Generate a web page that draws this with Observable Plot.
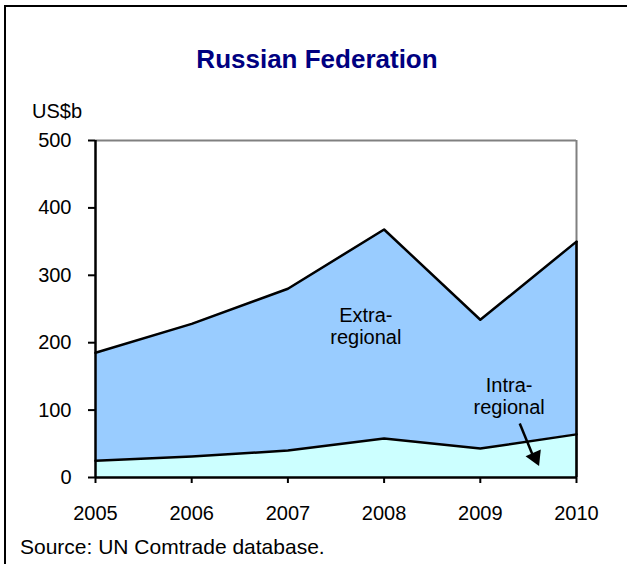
<!DOCTYPE html>
<html>
<head>
<meta charset="utf-8">
<script src="https://cdn.jsdelivr.net/npm/d3@7"></script>
<script src="https://cdn.jsdelivr.net/npm/@observablehq/plot@0.6"></script>
<style>
  html, body { margin: 0; padding: 0; background: #fff; }
  #wrap { position: relative; width: 627px; height: 564px; overflow: hidden; font-family: "Liberation Sans", Arial, sans-serif; }
  #frame { position: absolute; left: 4px; top: 5px; width: 700px; height: 700px; border-left: 2px solid #000; border-top: 2px solid #000; box-sizing: border-box; }
  .txt { position: absolute; white-space: nowrap; color: #000; }
  #title { left: 0; width: 634px; text-align: center; top: 46px; font-size: 26px; line-height: 26px; font-weight: bold; color: #000080; }
  #unit { left: 32px; top: 101px; font-size: 20px; line-height: 20px; }
  #source { left: 20px; top: 536px; font-size: 21px; line-height: 21px; }
  #chart { position: absolute; left: 0; top: 0; }
</style>
</head>
<body>
<div id="wrap">
  <div id="frame"></div>
  <div id="chart"></div>
  <div class="txt" id="title">Russian Federation</div>
  <div class="txt" id="unit">US$b</div>
  <div class="txt" id="source">Source: UN Comtrade database.</div>
</div>
<script>
// Data (US$ billions)
const years = [2005, 2006, 2007, 2008, 2009, 2010];
const totalTrade = [185, 228, 280, 368, 234, 350];   // extra + intra (top of stacked area)
const intraRegional = [25, 31, 40, 58, 43, 64];
const yTicks = [0, 100, 200, 300, 400, 500];
const xTicks = years;

// Annotation labels and arrow (data space)
const labelTexts = ["Extra-\nregional", "Intra-\nregional"];
const labelYears = [2007.81, 2009.30];
const labelValues = [225, 121];
const arrowFrom = {year: 2009.41, value: 80};
const arrowTo = {year: 2009.54, value: 35};
const arrowHead = {year: 2009.57, value: 30};

const rows = years.map((y, i) => ({year: y, total: totalTrade[i], intra: intraRegional[i]}));
const labels = labelTexts.map((t, i) => ({text: t, year: labelYears[i], value: labelValues[i]}));
const last = rows[rows.length - 1];

const chart = Plot.plot({
  width: 627,
  height: 564,
  marginLeft: 95,
  marginRight: 51,
  marginTop: 140,
  marginBottom: 87,
  style: {fontFamily: "'Liberation Sans', Arial, sans-serif", fontSize: "20px", color: "#000", background: "transparent"},
  x: {domain: [2005, 2010]},
  y: {domain: [0, 500]},
  marks: [
    Plot.areaY(rows, {x: "year", y1: "intra", y2: "total", fill: "#99CCFF"}),
    Plot.areaY(rows, {x: "year", y1: 0, y2: "intra", fill: "#CCFFFF"}),
    Plot.ruleY([500], {stroke: "#808080", strokeWidth: 2}),
    Plot.ruleX([2010], {stroke: "#808080", strokeWidth: 2}),
    Plot.ruleX([last], {x: "year", y1: 0, y2: "total", stroke: "#000", strokeWidth: 2.5}),
    Plot.line(rows, {x: "year", y: "total", stroke: "#000", strokeWidth: 2.5}),
    Plot.line(rows, {x: "year", y: "intra", stroke: "#000", strokeWidth: 2.5}),
    Plot.ruleX([2005], {stroke: "#000", strokeWidth: 2.5}),
    Plot.ruleY([0], {stroke: "#000", strokeWidth: 2.5}),
    Plot.axisY({ticks: yTicks, tickSize: 7, tickPadding: 17, tickFormat: d => String(d), fontSize: 20, label: null, strokeWidth: 2}),
    Plot.axisX({ticks: xTicks, tickSize: 6, tickPadding: 22, tickFormat: d => String(d), fontSize: 20, label: null, strokeWidth: 2}),
    Plot.text(labels, {x: "year", y: "value", text: "text", fontSize: 20, lineHeight: 1.1, fill: "#000"}),
    Plot.link([{a: arrowFrom, b: arrowTo}], {x1: d => d.a.year, y1: d => d.a.value, x2: d => d.b.year, y2: d => d.b.value, stroke: "#000", strokeWidth: 2.5}),
    Plot.dot([arrowHead], {x: "year", y: "value", symbol: "triangle", r: 6.2, fill: "#000", stroke: "none", rotate: 156})
  ]
});
document.getElementById("chart").appendChild(chart);
</script>
</body>
</html>
